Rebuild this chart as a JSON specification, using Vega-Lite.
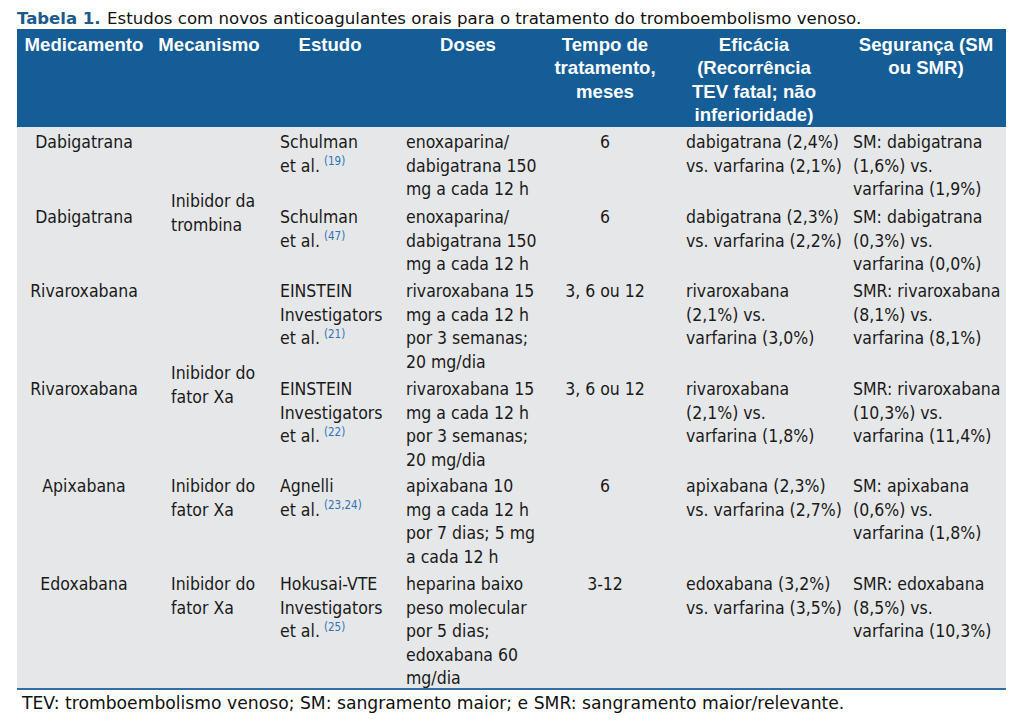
{
  "$schema": "https://vega.github.io/schema/vega-lite/v6.json",
  "width": 1024,
  "height": 727,
  "autosize": {"type": "fit", "contains": "padding"},
  "padding": 0,
  "background": "white",
  "config": {"view": {"stroke": null}},
  "datasets": {
    "frame": [
      {"part": "header", "c0": 0, "c1": 7, "r0": -1, "r1": 0},
      {"part": "body", "c0": 0, "c1": 7, "r0": 0, "r1": 6}
    ],
    "rule": [{"c0": 0, "c1": 7, "r": 6}],
    "title": [
      {"kind": "bold", "text": "Tabela 1.", "c": 0, "r": -2},
      {"kind": "normal", "text": "Estudos com novos anticoagulantes orais para o tratamento do tromboembolismo venoso.", "c": 0, "r": -2}
    ],
    "footer": [
      {"text": "TEV: tromboembolismo venoso; SM: sangramento maior; e SMR: sangramento maior/relevante.", "c": 0, "r": 7}
    ],
    "header": [
      {"col": 0, "r": -1, "text": "Medicamento"},
      {"col": 1, "r": -1, "text": "Mecanismo"},
      {"col": 2, "r": -1, "text": "Estudo"},
      {"col": 3, "r": -1, "text": "Doses"},
      {"col": 4, "r": -1, "text": "Tempo de\ntratamento,\nmeses"},
      {"col": 5, "r": -1, "text": "Eficácia\n(Recorrência\nTEV fatal; não\ninferioridade)"},
      {"col": 6, "r": -1, "text": "Segurança (SM\nou SMR)"}
    ],
    "cells": [
      {"row": 0, "col": 0, "text": "Dabigatrana"},
      {"row": 0, "col": 2, "text": "Schulman\net al."},
      {"row": 0, "col": 3, "text": "enoxaparina/\ndabigatrana 150\nmg a cada 12 h"},
      {"row": 0, "col": 4, "text": "6"},
      {"row": 0, "col": 5, "text": "dabigatrana (2,4%)\nvs. varfarina (2,1%)"},
      {"row": 0, "col": 6, "text": "SM: dabigatrana\n(1,6%) vs.\nvarfarina (1,9%)"},
      {"row": 1, "col": 0, "text": "Dabigatrana"},
      {"row": 1, "col": 2, "text": "Schulman\net al."},
      {"row": 1, "col": 3, "text": "enoxaparina/\ndabigatrana 150\nmg a cada 12 h"},
      {"row": 1, "col": 4, "text": "6"},
      {"row": 1, "col": 5, "text": "dabigatrana (2,3%)\nvs. varfarina (2,2%)"},
      {"row": 1, "col": 6, "text": "SM: dabigatrana\n(0,3%) vs.\nvarfarina (0,0%)"},
      {"row": 2, "col": 0, "text": "Rivaroxabana"},
      {"row": 2, "col": 2, "text": "EINSTEIN\nInvestigators\net al."},
      {"row": 2, "col": 3, "text": "rivaroxabana 15\nmg a cada 12 h\npor 3 semanas;\n20 mg/dia"},
      {"row": 2, "col": 4, "text": "3, 6 ou 12"},
      {"row": 2, "col": 5, "text": "rivaroxabana\n(2,1%) vs.\nvarfarina (3,0%)"},
      {"row": 2, "col": 6, "text": "SMR: rivaroxabana\n(8,1%) vs.\nvarfarina (8,1%)"},
      {"row": 3, "col": 0, "text": "Rivaroxabana"},
      {"row": 3, "col": 2, "text": "EINSTEIN\nInvestigators\net al."},
      {"row": 3, "col": 3, "text": "rivaroxabana 15\nmg a cada 12 h\npor 3 semanas;\n20 mg/dia"},
      {"row": 3, "col": 4, "text": "3, 6 ou 12"},
      {"row": 3, "col": 5, "text": "rivaroxabana\n(2,1%) vs.\nvarfarina (1,8%)"},
      {"row": 3, "col": 6, "text": "SMR: rivaroxabana\n(10,3%) vs.\nvarfarina (11,4%)"},
      {"row": 4, "col": 0, "text": "Apixabana"},
      {"row": 4, "col": 1, "text": "Inibidor do\nfator Xa"},
      {"row": 4, "col": 2, "text": "Agnelli\net al."},
      {"row": 4, "col": 3, "text": "apixabana 10\nmg a cada 12 h\npor 7 dias; 5 mg\na cada 12 h"},
      {"row": 4, "col": 4, "text": "6"},
      {"row": 4, "col": 5, "text": "apixabana (2,3%)\nvs. varfarina (2,7%)"},
      {"row": 4, "col": 6, "text": "SM: apixabana\n(0,6%) vs.\nvarfarina (1,8%)"},
      {"row": 5, "col": 0, "text": "Edoxabana"},
      {"row": 5, "col": 1, "text": "Inibidor do\nfator Xa"},
      {"row": 5, "col": 2, "text": "Hokusai-VTE\nInvestigators\net al."},
      {"row": 5, "col": 3, "text": "heparina baixo\npeso molecular\npor 5 dias;\nedoxabana 60\nmg/dia"},
      {"row": 5, "col": 4, "text": "3-12"},
      {"row": 5, "col": 5, "text": "edoxabana (3,2%)\nvs. varfarina (3,5%)"},
      {"row": 5, "col": 6, "text": "SMR: edoxabana\n(8,5%) vs.\nvarfarina (10,3%)"}
    ],
    "merged": [
      {"col": 1, "boundary": 1, "text": "Inibidor da\ntrombina"},
      {"col": 1, "boundary": 3, "text": "Inibidor do\nfator Xa"}
    ],
    "refs": [
      {"row": 0, "col": 2, "line": 1, "text": "(19)"},
      {"row": 1, "col": 2, "line": 1, "text": "(47)"},
      {"row": 2, "col": 2, "line": 2, "text": "(21)"},
      {"row": 3, "col": 2, "line": 2, "text": "(22)"},
      {"row": 4, "col": 2, "line": 1, "text": "(23,24)"},
      {"row": 5, "col": 2, "line": 2, "text": "(25)"}
    ]
  },
  "resolve": {"scale": {"x": "independent", "y": "independent"}},
  "layer": [
    {
      "data": {"name": "frame"},
      "mark": {"type": "rect"},
      "encoding": {
        "x": {"field": "c0", "type": "quantitative", "axis": null, "scale": {"domain": [0,1,2,3,4,5,6,7], "range": [17,152,268,392,545,665,843,1006], "zero": false, "nice": false}},
        "x2": {"field": "c1"},
        "y": {"field": "r0", "type": "quantitative", "axis": null, "scale": {"domain": [-2,-1,0,1,2,3,4,5,6,7], "range": [24,29,127,202,276,374,471,569,689,709], "zero": false, "nice": false}},
        "y2": {"field": "r1"},
        "color": {"field": "part", "type": "nominal", "legend": null, "scale": {"domain": ["header", "body"], "range": ["#155d97", "#e6e7e8"]}}
      }
    },
    {
      "data": {"name": "rule"},
      "mark": {"type": "rule", "color": "#2f6fa6", "strokeWidth": 2},
      "encoding": {
        "x": {"field": "c0", "type": "quantitative", "axis": null, "scale": {"domain": [0,1,2,3,4,5,6,7], "range": [17,152,268,392,545,665,843,1006], "zero": false, "nice": false}},
        "x2": {"field": "c1"},
        "y": {"field": "r", "type": "quantitative", "axis": null, "scale": {"domain": [-2,-1,0,1,2,3,4,5,6,7], "range": [24,29,127,202,276,374,471,569,689,709], "zero": false, "nice": false}}
      }
    },
    {
      "data": {"name": "title"},
      "transform": [{"filter": "datum.kind === 'bold'"}],
      "mark": {"type": "text", "align": "left", "baseline": "alphabetic", "font": "DejaVu Sans", "fontWeight": "bold", "fontSize": 16.5, "color": "#1c5a8c", "dx": 0},
      "encoding": {
        "x": {"field": "c", "type": "quantitative", "axis": null, "scale": {"domain": [0,1,2,3,4,5,6,7], "range": [17,152,268,392,545,665,843,1006], "zero": false, "nice": false}},
        "y": {"field": "r", "type": "quantitative", "axis": null, "scale": {"domain": [-2,-1,0,1,2,3,4,5,6,7], "range": [24,29,127,202,276,374,471,569,689,709], "zero": false, "nice": false}},
        "text": {"field": "text"}
      }
    },
    {
      "data": {"name": "title"},
      "transform": [{"filter": "datum.kind === 'normal'"}],
      "mark": {"type": "text", "align": "left", "baseline": "alphabetic", "font": "DejaVu Sans", "fontSize": 16.6, "color": "#111111", "dx": 90},
      "encoding": {
        "x": {"field": "c", "type": "quantitative", "axis": null, "scale": {"domain": [0,1,2,3,4,5,6,7], "range": [17,152,268,392,545,665,843,1006], "zero": false, "nice": false}},
        "y": {"field": "r", "type": "quantitative", "axis": null, "scale": {"domain": [-2,-1,0,1,2,3,4,5,6,7], "range": [24,29,127,202,276,374,471,569,689,709], "zero": false, "nice": false}},
        "text": {"field": "text"}
      }
    },
    {
      "data": {"name": "footer"},
      "mark": {"type": "text", "align": "left", "baseline": "alphabetic", "font": "DejaVu Sans", "fontSize": 17.2, "color": "#111111", "dx": 5},
      "encoding": {
        "x": {"field": "c", "type": "quantitative", "axis": null, "scale": {"domain": [0,1,2,3,4,5,6,7], "range": [17,152,268,392,545,665,843,1006], "zero": false, "nice": false}},
        "y": {"field": "r", "type": "quantitative", "axis": null, "scale": {"domain": [-2,-1,0,1,2,3,4,5,6,7], "range": [24,29,127,202,276,374,471,569,689,709], "zero": false, "nice": false}},
        "text": {"field": "text"}
      }
    },
    {
      "data": {"name": "header"},
      "mark": {"type": "text", "align": "center", "baseline": "top", "font": "Liberation Sans", "fontWeight": "bold", "fontSize": 18.6, "lineBreak": "\n", "lineHeight": 23.3, "color": "white", "dy": 7},
      "encoding": {
        "x": {"field": "col", "type": "quantitative", "axis": null, "scale": {"domain": [0,1,2,3,4,5,6], "range": [84,209,330,468,605,754,926], "zero": false, "nice": false}},
        "y": {"field": "r", "type": "quantitative", "axis": null, "scale": {"domain": [-2,-1,0,1,2,3,4,5,6,7], "range": [24,29,127,202,276,374,471,569,689,709], "zero": false, "nice": false}},
        "text": {"field": "text"}
      }
    },
    {
      "data": {"name": "cells"},
      "transform": [{"filter": "datum.col === 0 || datum.col === 4"}],
      "mark": {"type": "text", "align": "center", "baseline": "top", "font": "DejaVu Sans Condensed, DejaVu Sans", "fontSize": 17.5, "lineBreak": "\n", "lineHeight": 23.6, "color": "#1a1a1a", "dy": 7},
      "encoding": {
        "x": {"field": "col", "type": "quantitative", "axis": null, "scale": {"domain": [0,1,2,3,4,5,6], "range": [84,171,280,406,605,686,853], "zero": false, "nice": false}},
        "y": {"field": "row", "type": "quantitative", "axis": null, "scale": {"domain": [-2,-1,0,1,2,3,4,5,6,7], "range": [24,29,127,202,276,374,471,569,689,709], "zero": false, "nice": false}},
        "text": {"field": "text"}
      }
    },
    {
      "data": {"name": "cells"},
      "transform": [{"filter": "datum.col !== 0 && datum.col !== 4"}],
      "mark": {"type": "text", "align": "left", "baseline": "top", "font": "DejaVu Sans Condensed, DejaVu Sans", "fontSize": 17.5, "lineBreak": "\n", "lineHeight": 23.6, "color": "#1a1a1a", "dy": 7},
      "encoding": {
        "x": {"field": "col", "type": "quantitative", "axis": null, "scale": {"domain": [0,1,2,3,4,5,6], "range": [84,171,280,406,605,686,853], "zero": false, "nice": false}},
        "y": {"field": "row", "type": "quantitative", "axis": null, "scale": {"domain": [-2,-1,0,1,2,3,4,5,6,7], "range": [24,29,127,202,276,374,471,569,689,709], "zero": false, "nice": false}},
        "text": {"field": "text"}
      }
    },
    {
      "data": {"name": "merged"},
      "mark": {"type": "text", "align": "left", "baseline": "middle", "font": "DejaVu Sans Condensed, DejaVu Sans", "fontSize": 17.5, "lineBreak": "\n", "lineHeight": 23.6, "color": "#1a1a1a"},
      "encoding": {
        "x": {"field": "col", "type": "quantitative", "axis": null, "scale": {"domain": [0,1,2,3,4,5,6], "range": [84,171,280,406,605,686,853], "zero": false, "nice": false}},
        "y": {"field": "boundary", "type": "quantitative", "axis": null, "scale": {"domain": [-2,-1,0,1,2,3,4,5,6,7], "range": [24,29,127,202,276,374,471,569,689,709], "zero": false, "nice": false}},
        "text": {"field": "text"}
      }
    },
    {
      "data": {"name": "refs"},
      "transform": [{"filter": "datum.line === 1"}],
      "mark": {"type": "text", "align": "left", "baseline": "alphabetic", "font": "DejaVu Sans Condensed, DejaVu Sans", "fontSize": 11.5, "color": "#2f73b5", "dx": 44, "dy": 38},
      "encoding": {
        "x": {"field": "col", "type": "quantitative", "axis": null, "scale": {"domain": [0,1,2,3,4,5,6], "range": [84,171,280,406,605,686,853], "zero": false, "nice": false}},
        "y": {"field": "row", "type": "quantitative", "axis": null, "scale": {"domain": [-2,-1,0,1,2,3,4,5,6,7], "range": [24,29,127,202,276,374,471,569,689,709], "zero": false, "nice": false}},
        "text": {"field": "text"}
      }
    },
    {
      "data": {"name": "refs"},
      "transform": [{"filter": "datum.line === 2"}],
      "mark": {"type": "text", "align": "left", "baseline": "alphabetic", "font": "DejaVu Sans Condensed, DejaVu Sans", "fontSize": 11.5, "color": "#2f73b5", "dx": 44, "dy": 61.6},
      "encoding": {
        "x": {"field": "col", "type": "quantitative", "axis": null, "scale": {"domain": [0,1,2,3,4,5,6], "range": [84,171,280,406,605,686,853], "zero": false, "nice": false}},
        "y": {"field": "row", "type": "quantitative", "axis": null, "scale": {"domain": [-2,-1,0,1,2,3,4,5,6,7], "range": [24,29,127,202,276,374,471,569,689,709], "zero": false, "nice": false}},
        "text": {"field": "text"}
      }
    }
  ]
}
